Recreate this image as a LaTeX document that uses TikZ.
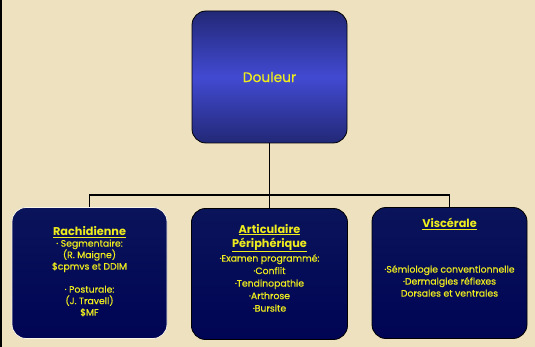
\documentclass[tikz,border=0pt]{standalone}
\usepackage{fontspec}
\setmainfont{Poppins}[UprightFeatures={FakeBold=0.5}]
\definecolor{bgc}{RGB}{238,225,192}
\definecolor{yel}{RGB}{238,236,30}
\definecolor{topdark}{RGB}{34,40,118}
\definecolor{topmid}{RGB}{66,74,210}
\definecolor{lowtop}{RGB}{10,20,90}
\definecolor{lowmid}{RGB}{24,42,158}
\definecolor{lowbot}{RGB}{0,4,84}
\definecolor{lightedge}{RGB}{250,246,232}
\begin{document}
\begin{tikzpicture}[x=1pt,y=-1pt,
  boxbase/.style={line width=0.8pt, rounded corners=14pt, inner sep=0pt},
  topbox/.style={boxbase, draw=black, minimum width=155pt, minimum height=132pt, top color=topdark, bottom color=topdark, middle color=topmid},
  lowbox/.style={boxbase, draw=black, minimum width=155pt, minimum height=131pt, top color=lowtop, middle color=lowmid, bottom color=lowbot},
  txt/.style={text=yel, align=center, inner sep=0pt},
  ttl/.style={txt, font=\bfseries\fontsize{11.3}{14}\selectfont},
  link/.style={draw=black, line width=1.4pt}]
\fill[bgc] (0,0) rectangle (535,347);
\useasboundingbox (0,0) rectangle (535,347);
\fill[black] (0,0) rectangle (2,347);

\node[topbox] (root) at (269.5,77) {};
\node[txt, font=\fontsize{13.8}{16}\selectfont] (rootlbl) at (root.center) {Douleur};

\node[lowbox, draw=lightedge] (b1) at (89.5,273) {};
\node[lowbox, minimum width=156pt] (b2) at (269.5,274) {};
\node[lowbox] (b3) at (449.5,273) {};

\coordinate (jn) at (269.5,195);
\draw[link] (root.south) -- (b2.north);
\draw[link] (b1.north) |- (jn) -| (b3.north);

\node[ttl] (t1a) at (89.5,232) {\underline{Rachidienne}};
\node[txt, font=\fontsize{9.3}{11.5}\selectfont] (t1b) at (89.5,278)
  {· Segmentaire:\\
   (R. Maigne)\\
   \$cpmvs et DDIM\\
   \strut\\
   · Posturale:\\
   (J. Travell)\\
   \$MF};

\node[ttl] (t2a) at (269.5,238)
  {\underline{Articulaire}\\
   \underline{Périphérique}};
\node[txt, font=\fontsize{9.3}{12.5}\selectfont] (t2b) at (269.5,283)
  {·Examen programmé:\\
   ·Conflit\\
   ·Tendinopathie\\
   ·Arthrose\\
   ·Bursite};

\node[ttl] (t3a) at (449.5,224) {\underline{Viscérale}};
\node[txt, font=\fontsize{9.3}{12}\selectfont] (t3b) at (449.5,281)
  {·Sémiologie conventionnelle\\
   ·Dermalgies réflexes\\
   Dorsales et ventrales};
\end{tikzpicture}
\end{document}
